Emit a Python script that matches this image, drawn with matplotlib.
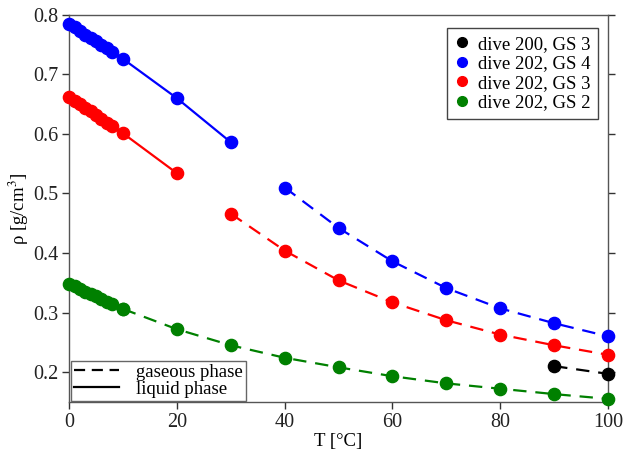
import matplotlib
matplotlib.use('Agg')
import matplotlib.pyplot as plt
from matplotlib.lines import Line2D

plt.rcParams['font.family'] = ['Liberation Serif', 'DejaVu Serif']
plt.rcParams['font.size'] = 13.5
plt.rcParams['mathtext.fontset'] = 'stix'

# temperatures [degC]
t_liq_fine = [0, 1, 2, 3, 4, 5, 6, 7, 8, 10, 20, 30]
t_gas = [40, 50, 60, 70, 80, 90, 100]

# dive 202, GS 4
gs4_liq = [0.785, 0.779, 0.773, 0.767, 0.761, 0.756, 0.750, 0.744, 0.738, 0.726, 0.660, 0.586]
gs4_gas = [0.510, 0.442, 0.386, 0.341, 0.307, 0.282, 0.260]

# dive 202, GS 3
t_gs3_liq = [0, 1, 2, 3, 4, 5, 6, 7, 8, 10, 20]
gs3_liq = [0.662, 0.656, 0.650, 0.644, 0.638, 0.632, 0.625, 0.619, 0.613, 0.601, 0.534]
t_gs3_gas = [30, 40, 50, 60, 70, 80, 90, 100]
gs3_gas = [0.466, 0.404, 0.354, 0.317, 0.287, 0.263, 0.245, 0.229]

# dive 202, GS 2
t_gs2_liq = [0, 1, 2, 3, 4, 5, 6, 7, 8, 10]
gs2_liq = [0.348, 0.344, 0.339, 0.335, 0.331, 0.327, 0.322, 0.318, 0.314, 0.306]
t_gs2_gas = [10, 20, 30, 40, 50, 60, 70, 80, 90, 100]
gs2_gas = [0.306, 0.272, 0.245, 0.224, 0.208, 0.193, 0.181, 0.172, 0.163, 0.155]

# dive 200, GS 3
t_d200 = [90, 100]
d200_gas = [0.210, 0.197]

fig = plt.figure(figsize=(6.23, 4.51), dpi=100)
ax = fig.add_axes([0.111, 0.109, 0.865, 0.858])

ms = 8.8
lw = 1.6
kw = dict(marker='o', markersize=ms, linewidth=lw, clip_on=False, zorder=3)

ax.plot(t_liq_fine, gs4_liq, '-', color='blue', **kw)
ax.plot(t_gas, gs4_gas, '--', color='blue', dashes=(6, 4), **kw)
ax.plot(t_gs3_liq, gs3_liq, '-', color='red', **kw)
ax.plot(t_gs3_gas, gs3_gas, '--', color='red', dashes=(6, 4), **kw)
ax.plot(t_gs2_liq, gs2_liq, '-', color='green', **kw)
ax.plot(t_gs2_gas, gs2_gas, '--', color='green', dashes=(6, 4), **kw)
ax.plot(t_d200, d200_gas, '--', color='black', dashes=(6, 4), **kw)

ax.set_xlim(0, 100)
ax.set_ylim(0.15, 0.8)
ax.set_xticks([0, 20, 40, 60, 80, 100])
ax.set_yticks([0.2, 0.3, 0.4, 0.5, 0.6, 0.7, 0.8])
ax.set_yticklabels(['0.2', '0.3', '0.4', '0.5', '0.6', '0.7', '0.8'])
ax.tick_params(direction='out', length=5, width=1, colors='#333333', labelcolor='#222222',
               right=True, top=False, labelsize=14.5, pad=3)
for s in ax.spines.values():
    s.set_color('#555555')
    s.set_linewidth(1)

ax.set_xlabel('T [°C]', labelpad=1)
ax.set_ylabel(r'ρ [g/cm$^3$]', labelpad=1)

# series legend
handles = [Line2D([], [], linestyle='none', marker='o', color=c, markersize=7)
           for c in ['black', 'blue', 'red', 'green']]
labels = ['dive 200, GS 3', 'dive 202, GS 4', 'dive 202, GS 3', 'dive 202, GS 2']
leg1 = ax.legend(handles, labels, loc='upper right', bbox_to_anchor=(0.9995, 0.99),
                 fancybox=False, edgecolor='#444444', framealpha=1,
                 handlelength=0.8, handletextpad=0.5, labelspacing=0.13,
                 borderpad=0.4, fontsize=13.5)
leg1.get_frame().set_linewidth(1)
ax.add_artist(leg1)

# phase legend
ph = [Line2D([], [], color='black', linestyle='--', dashes=(5, 3), linewidth=1.6),
      Line2D([], [], color='black', linestyle='-', linewidth=1.6)]
leg2 = ax.legend(ph, ['gaseous phase', 'liquid phase'], loc='lower left',
                 bbox_to_anchor=(0.004, 0.003), fancybox=False, edgecolor='#666666',
                 framealpha=1, handlelength=2.4, handletextpad=0.9,
                 labelspacing=0.0, borderpad=0.15, borderaxespad=0.0, fontsize=13.5)
leg2.get_frame().set_linewidth(1)

fig.savefig('out.png', dpi=100)
